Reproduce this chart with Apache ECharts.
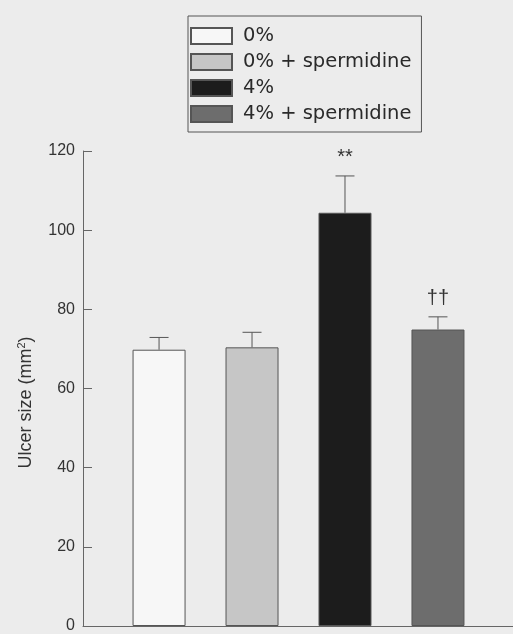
<!DOCTYPE html>
<html>
<head>
<meta charset="utf-8">
<script src="https://cdn.jsdelivr.net/npm/echarts@6/dist/echarts.min.js"></script>
<style>
html,body{margin:0;padding:0;background:#ececec;}
#c{width:513px;height:634px;}
</style>
</head>
<body>
<div id="c"></div>
<script>
const categories = ['0%', '0% + spermidine', '4%', '4% + spermidine'];
const means = [69.8, 70.4, 104.4, 74.9];
const errors = [3.1, 3.8, 9.3, 3.2];
const annotations = ['', '', '**', '††'];
const barColors = ['#f7f7f7', '#c6c6c6', '#1c1c1c', '#6d6d6d'];
const yTicks = [0, 20, 40, 60, 80, 100, 120];

const chart = echarts.init(document.getElementById('c'));

const barSeries = categories.map((name, i) => ({
  name: name,
  type: 'bar',
  barWidth: 53,
  barGap: '-100%',
  data: [[i, means[i]]],
  itemStyle: { color: barColors[i], borderColor: '#555', borderWidth: 1 },
  silent: true
}));

const errorSeries = {
  type: 'custom',
  silent: true,
  data: means.map((m, i) => [i, m, m + errors[i]]),
  renderItem: function (params, api) {
    const i = api.value(0);
    const base = api.coord([i, api.value(1)]);
    const top = api.coord([i, api.value(2)]);
    const half = 9.5;
    const children = [
      { type: 'line', shape: { x1: base[0], y1: base[1], x2: top[0], y2: top[1] }, style: { stroke: '#555', lineWidth: 1 } },
      { type: 'line', shape: { x1: top[0] - half, y1: top[1], x2: top[0] + half, y2: top[1] }, style: { stroke: '#555', lineWidth: 1 } }
    ];
    const txt = annotations[params.dataIndex];
    if (txt) {
      children.push({ type: 'text', x: top[0], y: top[1] - 18, style: { text: txt, fill: '#333', font: '20px "Liberation Sans", Arial, sans-serif', align: 'center', verticalAlign: 'middle' } });
    }
    return { type: 'group', children: children };
  },
  z: 5
};

chart.setOption({
  backgroundColor: '#ececec',
  animation: false,
  legend: {
    orient: 'vertical',
    left: 188,
    top: 16,
    padding: [10, 10, 8, 2],
    itemWidth: 41,
    itemHeight: 16,
    itemGap: 6,
    icon: 'rect',
    borderColor: '#555',
    borderWidth: 1,
    selectedMode: false,
    data: categories,
    textStyle: { fontFamily: 'DejaVu Sans', fontSize: 19.5, color: '#2a2a2a', padding: [0, 0, 0, 6] }
  },
  grid: { left: 83, right: 0, top: 151, bottom: 3, containLabel: false },
  xAxis: {
    type: 'value',
    min: -0.818,
    max: 3.807,
    axisLine: { show: true, onZero: false, lineStyle: { color: '#666', width: 1 } },
    axisTick: { show: false },
    axisLabel: { show: false },
    splitLine: { show: false }
  },
  yAxis: {
    type: 'value',
    min: yTicks[0],
    max: yTicks[yTicks.length - 1],
    interval: 20,
    axisLine: { show: true, onZero: false, lineStyle: { color: '#666', width: 1 } },
    axisTick: { show: true, inside: true, length: 9, lineStyle: { color: '#666' } },
    axisLabel: { margin: 8, fontFamily: 'Liberation Sans', fontSize: 16, color: '#333' },
    splitLine: { show: false },
    name: 'Ulcer size (mm{sup|2})',
    nameLocation: 'middle',
    nameGap: 47,
    nameRotate: 90,
    nameTextStyle: {
      fontFamily: 'Liberation Sans', fontSize: 18, color: '#333',
      padding: [0, 28, 0, 0],
      rich: { sup: { fontFamily: 'Liberation Sans', fontSize: 11, color: '#333', padding: [0, 0, 9, 0] } }
    }
  },
  series: barSeries.concat([errorSeries])
});
</script>
</body>
</html>
